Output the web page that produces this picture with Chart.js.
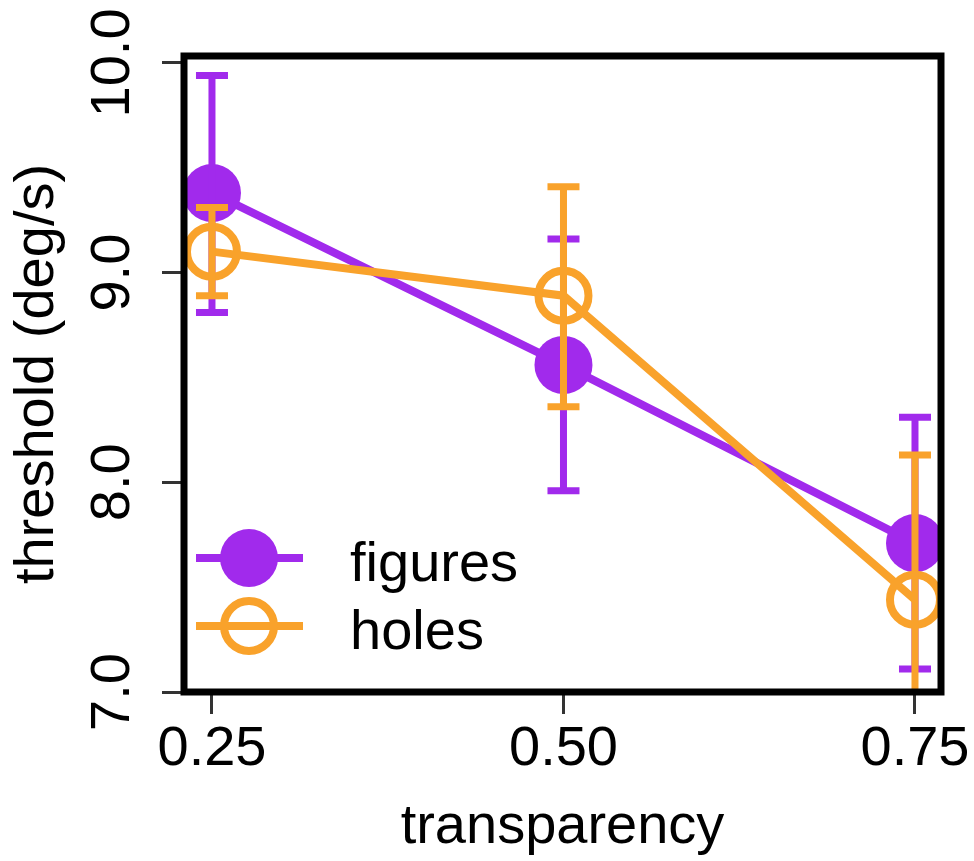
<!DOCTYPE html>
<html>
<head>
<meta charset="utf-8">
<script src="https://cdn.jsdelivr.net/npm/chart.js@4"></script>
<style>
  body { margin: 0; background: #fff; }
  canvas { display: block; }
</style>
</head>
<body>
<canvas id="myChart" width="974" height="861"></canvas>
<script>
// data
const transparency = [0.25, 0.5, 0.75];
const seriesNames = ["figures", "holes"];
const figuresMean = [9.38, 8.56, 7.71];
const figuresLow = [8.81, 7.96, 7.11];
const figuresHigh = [9.94, 9.16, 8.31];
const holesMean = [9.10, 8.89, 7.44];
const holesLow = [8.89, 8.36, 6.75];
const holesHigh = [9.31, 9.41, 8.13];
const xTicks = [0.25, 0.5, 0.75];
const yTicks = [7, 7.5, 8, 8.5, 9, 9.5, 10];

const purple = "#A12AEC";
const orange = "#F9A22B";

Chart.defaults.font.family = "'Liberation Sans', Arial, sans-serif";
Chart.defaults.font.size = 56;
Chart.defaults.color = "#000";

const toPoints = (vals) => transparency.map((x, i) => ({ x: x, y: vals[i] }));

// error bars drawn right after each dataset so the orange ones sit on top
const errorBars = {
    id: "errorBars",
    afterDatasetDraw(chart, args) {
        const ds = chart.data.datasets[args.index];
        const { ctx, chartArea } = chart;
        const x = chart.scales.x;
        const y = chart.scales.y;
        ctx.save();
        ctx.beginPath();
        ctx.rect(chartArea.left, chartArea.top, chartArea.width, chartArea.height);
        ctx.clip();
        ctx.strokeStyle = ds.borderColor;
        ctx.lineWidth = 7;
        ds.data.forEach((p, i) => {
            const px = x.getPixelForValue(p.x);
            const top = y.getPixelForValue(ds.errHigh[i]);
            const bot = y.getPixelForValue(ds.errLow[i]);
            ctx.beginPath();
            ctx.moveTo(px, top);
            ctx.lineTo(px, bot);
            ctx.moveTo(px - 16, top);
            ctx.lineTo(px + 16, top);
            ctx.moveTo(px - 16, bot);
            ctx.lineTo(px + 16, bot);
            ctx.stroke();
        });
        ctx.restore();
    }
};

const boxAndLegend = {
    id: "boxAndLegend",
    beforeDraw(chart) {
        const ctx = chart.ctx;
        ctx.save();
        ctx.fillStyle = "#fff";
        ctx.fillRect(0, 0, chart.width, chart.height);
        ctx.restore();
    },
    afterDatasetsDraw(chart) {
        const { ctx, chartArea } = chart;
        ctx.save();
        ctx.strokeStyle = "#000";
        ctx.lineWidth = 7;
        ctx.strokeRect(chartArea.left, chartArea.top, chartArea.width, chartArea.height);

        // legend inside the plot, bottom left
        chart.data.datasets.forEach((ds, i) => {
            const ly = 558 + i * 68;
            ctx.strokeStyle = ds.borderColor;
            ctx.lineWidth = 8;
            ctx.beginPath();
            ctx.moveTo(196, ly);
            ctx.lineTo(303, ly);
            ctx.stroke();
            ctx.beginPath();
            ctx.arc(249, ly, ds.pointRadius, 0, Math.PI * 2);
            if (ds.pointBorderWidth) {
                ctx.lineWidth = ds.pointBorderWidth;
                ctx.stroke();
            } else {
                ctx.fillStyle = ds.borderColor;
                ctx.fill();
            }
            ctx.fillStyle = "#000";
            ctx.font = "56px 'Liberation Sans', Arial, sans-serif";
            ctx.textBaseline = "alphabetic";
            ctx.textAlign = "left";
            ctx.fillText(ds.label, 350, ly + 23);
        });
        ctx.restore();
    }
};

const config = {
    type: "scatter",
    data: {
        datasets: [
            {
                label: seriesNames[0],
                data: toPoints(figuresMean),
                errLow: figuresLow,
                errHigh: figuresHigh,
                showLine: true,
                borderColor: purple,
                backgroundColor: purple,
                borderWidth: 8,
                pointRadius: 29,
                pointHoverRadius: 29,
                pointBorderWidth: 0,
                pointBackgroundColor: purple,
                order: 2
            },
            {
                label: seriesNames[1],
                data: toPoints(holesMean),
                errLow: holesLow,
                errHigh: holesHigh,
                showLine: true,
                borderColor: orange,
                backgroundColor: "rgba(0,0,0,0)",
                borderWidth: 8,
                pointRadius: 25,
                pointHoverRadius: 25,
                pointBorderWidth: 8,
                pointBorderColor: orange,
                pointBackgroundColor: "rgba(0,0,0,0)",
                order: 1
            }
        ]
    },
    options: {
        responsive: false,
        animation: false,
        events: [],
        layout: {
            padding: { top: 56, right: 32, left: 0, bottom: 0 }
        },
        plugins: {
            legend: { display: false },
            tooltip: { enabled: false }
        },
        scales: {
            x: {
                type: "linear",
                min: 0.2301,
                max: 0.7685,
                afterBuildTicks: (scale) => {
                    scale.ticks = xTicks.map((v) => ({ value: v }));
                },
                afterFit: (scale) => {
                    scale.height = 169;
                },
                ticks: {
                    padding: 2,
                    callback: (v) => v.toFixed(2)
                },
                grid: {
                    drawOnChartArea: false,
                    drawTicks: true,
                    tickLength: 22,
                    tickWidth: 3,
                    tickColor: "#333"
                },
                border: { display: false },
                title: {
                    display: true,
                    text: "transparency",
                    padding: 0
                }
            },
            y: {
                type: "linear",
                min: 7,
                max: 10.033,
                afterBuildTicks: (scale) => {
                    scale.ticks = yTicks.map((v) => ({ value: v }));
                },
                afterFit: (scale) => {
                    scale.width = 184;
                },
                ticks: {
                    minRotation: 90,
                    maxRotation: 90,
                    crossAlign: "center",
                    padding: -6,
                    callback: (v) => (Number.isInteger(v) ? v.toFixed(1) : "")
                },
                grid: {
                    drawOnChartArea: false,
                    drawTicks: true,
                    tickLength: 22,
                    tickWidth: 3,
                    tickColor: "#333"
                },
                border: { display: false },
                title: {
                    display: true,
                    text: "threshold (deg/s)",
                    padding: { top: 4, bottom: 0 }
                }
            }
        }
    },
    plugins: [errorBars, boxAndLegend]
};

const ctx = document.querySelector("#myChart").getContext("2d");
const myChart = new Chart(ctx, config);
</script>
</body>
</html>
